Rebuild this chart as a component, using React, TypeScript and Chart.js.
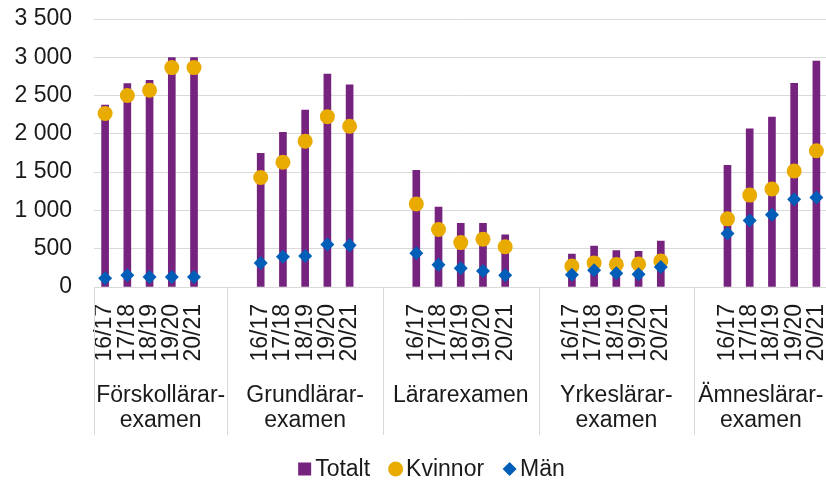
import { useEffect, useRef } from "react";
import { Chart, registerables } from "chart.js";

Chart.register(...registerables);

const groups: string[][] = [
  ["Förskollärar-", "examen"],
  ["Grundlärar-", "examen"],
  ["Lärarexamen"],
  ["Yrkeslärar-", "examen"],
  ["Ämneslärar-", "examen"],
];
const years = ["16/17", "17/18", "18/19", "19/20", "20/21"];

const totalt = [
  2375, 2655, 2700, 2995, 2995,
  1745, 2020, 2310, 2780, 2640,
  1525, 1045, 830, 830, 680,
  430, 535, 475, 465, 600,
  1590, 2065, 2220, 2660, 2950,
];
const kvinnor = [
  2265, 2500, 2570, 2865, 2865,
  1430, 1630, 1905, 2225, 2100,
  1085, 750, 580, 625, 525,
  275, 315, 295, 300, 340,
  890, 1200, 1280, 1515, 1780,
];
const man = [
  115, 155, 130, 130, 130,
  315, 395, 405, 555, 545,
  440, 290, 245, 210, 155,
  160, 220, 180, 165, 260,
  700, 870, 945, 1145, 1170,
];

const yMax = 3500;
const yStep = 500;
const GAP = 2;

const FONT = "'Liberation Sans', Arial, sans-serif";
const FS = 23;
const TEXT = "#1a1a1a";
const GRID = "#d9d9d9";
const PURPLE = "#76237f";
const YELLOW = "#eaab00";
const BLUE = "#005eb8";

function buildSlots(values: number[]) {
  const out: (number | null)[] = [];
  groups.forEach((_, g) => {
    years.forEach((_, i) => out.push(values[g * years.length + i]));
    if (g < groups.length - 1) for (let k = 0; k < GAP; k++) out.push(null);
  });
  return out;
}
function buildLabels() {
  const out: string[] = [];
  groups.forEach((_, g) => {
    years.forEach((y) => out.push(y));
    if (g < groups.length - 1) for (let k = 0; k < GAP; k++) out.push("");
  });
  return out;
}
const fmt = (v: number) => String(Math.round(v)).replace(/\B(?=(\d{3})+(?!\d))/g, " ");

const groupAxisPlugin = {
  id: "groupAxis",
  afterDraw(chart: any) {
    const { ctx, chartArea } = chart;
    const xs = chart.scales.x;
    const per = years.length + GAP;
    const n = chart.data.labels.length;
    const top = chartArea.bottom;
    const bottom = top + 148;
    ctx.save();
    ctx.strokeStyle = GRID;
    ctx.lineWidth = 1;
    const bounds: number[] = [-0.5];
    for (let g = 1; g < groups.length; g++) bounds.push(g * per - 1.5);
    bounds.push(n - 0.5);
    bounds.forEach((b) => {
      const px = Math.round(xs.getPixelForValue(b)) + 0.5;
      ctx.beginPath();
      ctx.moveTo(px, top);
      ctx.lineTo(px, bottom);
      ctx.stroke();
    });
    ctx.fillStyle = TEXT;
    ctx.font = `${FS}px ${FONT}`;
    ctx.textAlign = "center";
    ctx.textBaseline = "alphabetic";
    groups.forEach((lines, g) => {
      const cx = (xs.getPixelForValue(bounds[g]) + xs.getPixelForValue(bounds[g + 1])) / 2;
      lines.forEach((t, i) => ctx.fillText(t, cx, top + 115 + i * 25));
    });

    // legend
    const cy = 469;
    const items = chart.data.datasets.map((d: any) => ({ label: d.label, color: d.backgroundColor, style: d.legendStyle }));
    const widths = items.map((it: any) => ctx.measureText(it.label).width);
    const markW = 15;
    const gapText = 3;
    const gapItem = 18;
    let total = 0;
    items.forEach((_: any, i: number) => {
      total += markW + gapText + widths[i] + (i < items.length - 1 ? gapItem : 0);
    });
    let x = 431 - total / 2;
    ctx.textAlign = "left";
    ctx.textBaseline = "middle";
    items.forEach((it: any, i: number) => {
      ctx.fillStyle = it.color;
      const mx = x + markW / 2;
      ctx.beginPath();
      if (it.style === "rect") {
        ctx.rect(mx - 6.5, cy - 6.5, 13, 13);
      } else if (it.style === "circle") {
        ctx.arc(mx, cy, 7.5, 0, Math.PI * 2);
      } else {
        ctx.moveTo(mx, cy - 7);
        ctx.lineTo(mx + 7, cy);
        ctx.lineTo(mx, cy + 7);
        ctx.lineTo(mx - 7, cy);
        ctx.closePath();
      }
      ctx.fill();
      ctx.fillStyle = TEXT;
      ctx.fillText(it.label, x + markW + gapText, cy + 1);
      x += markW + gapText + widths[i] + gapItem;
    });
    ctx.restore();
  },
};

export default function App() {
  const ref = useRef<HTMLCanvasElement | null>(null);
  useEffect(() => {
    if (!ref.current) return;
    Chart.defaults.font.family = FONT;
    const chart = new Chart(ref.current, {
      type: "bar",
      data: {
        labels: buildLabels(),
        datasets: [
          {
            type: "bar",
            label: "Totalt",
            data: buildSlots(totalt),
            backgroundColor: PURPLE,
            barThickness: 7,
            order: 3,
            legendStyle: "rect",
          } as any,
          {
            type: "line",
            label: "Kvinnor",
            data: buildSlots(kvinnor),
            backgroundColor: YELLOW,
            borderColor: YELLOW,
            showLine: false,
            pointStyle: "circle",
            pointRadius: 7.5,
            pointBorderWidth: 0,
            order: 2,
            legendStyle: "circle",
          } as any,
          {
            type: "line",
            label: "Män",
            data: buildSlots(man),
            backgroundColor: BLUE,
            borderColor: BLUE,
            showLine: false,
            pointStyle: "rectRot",
            pointRadius: 7,
            pointBorderWidth: 0,
            order: 1,
            legendStyle: "rectRot",
          } as any,
        ],
      },
      options: {
        animation: false,
        responsive: true,
        maintainAspectRatio: false,
        layout: { padding: { top: 19, left: 0, right: 0, bottom: 0 } },
        plugins: { legend: { display: false }, tooltip: { enabled: false } },
        scales: {
          x: {
            type: "category",
            offset: true,
            grid: { display: false, drawTicks: false },
            border: { display: false },
            ticks: {
              autoSkip: false,
              minRotation: 90,
              maxRotation: 90,
              padding: 17,
              color: TEXT,
              font: { size: FS, family: FONT },
            },
            afterFit: (s: any) => {
              s.height = 194;
              s.paddingLeft = 0;
              s.paddingRight = 0;
              s.paddingTop = 0;
              s.paddingBottom = 0;
            },
          },
          y: {
            min: 0,
            max: yMax,
            grid: { color: GRID, lineWidth: 1, drawTicks: false },
            border: { display: false },
            ticks: {
              stepSize: yStep,
              padding: 22,
              color: TEXT,
              font: { size: FS, family: FONT },
              callback: (v: any) => fmt(Number(v)),
            },
            afterFit: (s: any) => {
              s.width = 94;
              s.paddingLeft = 0;
              s.paddingRight = 0;
              s.paddingTop = 0;
              s.paddingBottom = 0;
            },
          },
        },
      },
      plugins: [groupAxisPlugin],
    });
    return () => chart.destroy();
  }, []);
  return (
    <div style={{ position: "fixed", left: 0, top: 0, width: 826, height: 481, overflow: "hidden", background: "#fff" }}>
      <div style={{ position: "relative", width: 835, height: 481 }}>
        <canvas ref={ref} />
      </div>
    </div>
  );
}
